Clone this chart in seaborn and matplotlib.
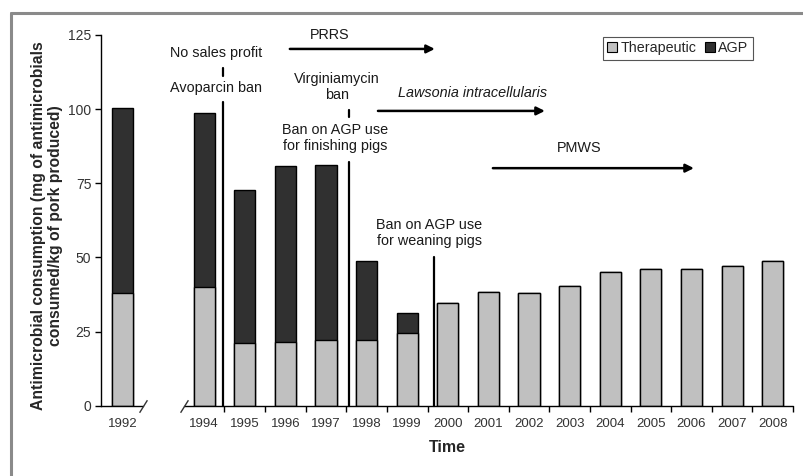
import matplotlib
matplotlib.use("Agg")
import matplotlib.pyplot as plt
import seaborn as sns
import numpy as np
import pandas as pd
from matplotlib.patches import Patch
from matplotlib.lines import Line2D

years = [1992, 1994, 1995, 1996, 1997, 1998, 1999, 2000, 2001, 2002, 2003, 2004, 2005, 2006, 2007, 2008]
therapeutic = [38.0, 40.0, 21.0, 21.5, 22.1, 22.1, 24.4, 34.5, 38.4, 38.1, 40.4, 45.1, 46.0, 46.0, 47.1, 48.9]
agp = [62.5, 58.8, 51.6, 59.3, 59.1, 26.7, 7.0, 0, 0, 0, 0, 0, 0, 0, 0, 0]
tick_labels = [str(y) for y in years]
y_ticks = [0, 25, 50, 75, 100, 125]
series_names = ["Therapeutic", "AGP"]

C_THER = "#c0c0c0"
C_AGP = "#303030"

sns.set_theme(style="white")
plt.rcParams["font.family"] = ["Liberation Sans", "DejaVu Sans"]

df = pd.DataFrame({"year": years, "therapeutic": therapeutic, "agp": agp})
df["total"] = df["therapeutic"] + df["agp"]

fig = plt.figure(figsize=(8.04, 4.76), dpi=100)
ax = fig.add_axes([101 / 804, 1 - 405.7 / 476, 692 / 804, 370.7 / 476])

sns.barplot(data=df, x="year", y="total", native_scale=True, width=0.52,
            color=C_AGP, saturation=1, edgecolor="black", linewidth=1.0, ax=ax, errorbar=None)
sns.barplot(data=df, x="year", y="therapeutic", native_scale=True, width=0.52,
            color=C_THER, saturation=1, edgecolor="black", linewidth=1.0, ax=ax, errorbar=None)

ax.set_xlim(1991.46, 2008.5)
ax.set_ylim(0, 125)
for s in ["top", "right", "bottom"]:
    ax.spines[s].set_visible(False)
ax.spines["left"].set_color("black")
ax.spines["left"].set_linewidth(1.0)

ax.set_yticks(y_ticks)
ax.tick_params(axis="y", left=True, length=4, width=1, direction="out", labelsize=10,
               labelcolor="#333333", color="black", pad=3)
ax.set_xticks(years)
ax.set_xticklabels(tick_labels)
ax.set_xticks([y + 0.5 for y in years[1:]], minor=True)
ax.tick_params(axis="x", which="major", length=0, labelsize=9.5, labelcolor="#333333", pad=9)
ax.tick_params(axis="x", which="minor", bottom=True, length=4, width=1, color="black", direction="out")
ax.set_xlabel("Time", fontsize=11.5, fontweight="bold", labelpad=7)
ax.set_ylabel("")

# broken x axis
ax.plot([1991.46, 1992.5], [0, 0], color="black", lw=1.0, clip_on=False, zorder=5)
ax.plot([1993.5, 2008.5], [0, 0], color="black", lw=1.0, clip_on=False, zorder=5)
for xb in [1992.5, 1993.5]:
    ax.plot([xb], [0], marker=[(-1, -1.6), (1, 1.6)], markersize=9, mec="#333333",
            mew=1.0, clip_on=False, zorder=6)

fig.text(47 / 804, 1 - 226 / 476,
         "Antimicrobial consumption (mg of antimicrobials\nconsumed/kg of pork produced)",
         rotation=90, ha="center", va="center", multialignment="center",
         fontsize=11.3, fontweight="bold", linespacing=1.15)

# event lines
lk = dict(color="black", lw=1.6, clip_on=False, zorder=4)
ax.plot([1994.46, 1994.46], [0, 102.4], **lk)
ax.plot([1994.46, 1994.46], [111.2, 113.9], **lk)
ax.plot([1997.57, 1997.57], [0, 82.2], **lk)
ax.plot([1997.57, 1997.57], [97.3, 99.7], **lk)
ax.plot([1999.66, 1999.66], [0, 50.1], **lk)

tk = dict(ha="center", va="center", fontsize=10.4, color="#1a1a1a")
ax.text(1994.29, 118.9, "No sales profit", **tk)
ax.text(1994.29, 107.1, "Avoparcin ban", **tk)
ax.text(1997.1, 125.0, "PRRS", **tk)
ax.text(1997.27, 107.6, "Virginiamycin\nban", linespacing=1.2, **tk)
ax.text(1997.22, 90.4, "Ban on AGP use\nfor finishing pigs", linespacing=1.2, **tk)
ax.text(2000.61, 105.4, "Lawsonia intracellularis", style="italic", **tk)
ax.text(2003.23, 86.9, "PMWS", **tk)
ax.text(1999.55, 58.1, "Ban on AGP use\nfor weaning pigs", linespacing=1.2, **tk)

ak = dict(arrowstyle="-|>", lw=1.8, color="black", mutation_scale=12, shrinkA=0, shrinkB=0)
ax.annotate("", xy=(1999.68, 120.3), xytext=(1996.11, 120.3), arrowprops=ak, annotation_clip=False)
ax.annotate("", xy=(2002.39, 99.4), xytext=(1998.28, 99.4), arrowprops=ak, annotation_clip=False)
ax.annotate("", xy=(2006.06, 80.1), xytext=(2001.11, 80.1), arrowprops=ak, annotation_clip=False)

handles = [Patch(facecolor=C_THER, edgecolor="black", lw=0.8, label=series_names[0]),
           Patch(facecolor=C_AGP, edgecolor="black", lw=0.8, label=series_names[1])]
leg = fig.legend(handles=handles, loc="upper right", bbox_to_anchor=(753 / 804, 1 - 37 / 476),
                 ncol=2, fontsize=10.3, frameon=True, fancybox=False, framealpha=1,
                 edgecolor="#555555", handlelength=0.7, handleheight=0.7, handletextpad=0.25,
                 columnspacing=0.6, borderpad=0.3, borderaxespad=0)
leg.get_frame().set_linewidth(0.8)

# outer frame (top and left visible)
fig.add_artist(Line2D([11 / 804, 11 / 804], [0, 1 - 13 / 476], transform=fig.transFigure,
                      color="#8a8a8a", lw=2.2))
fig.add_artist(Line2D([11 / 804, 1], [1 - 13 / 476, 1 - 13 / 476], transform=fig.transFigure,
                      color="#8a8a8a", lw=2.2))

fig.savefig("out.png", dpi=100, facecolor="white")
